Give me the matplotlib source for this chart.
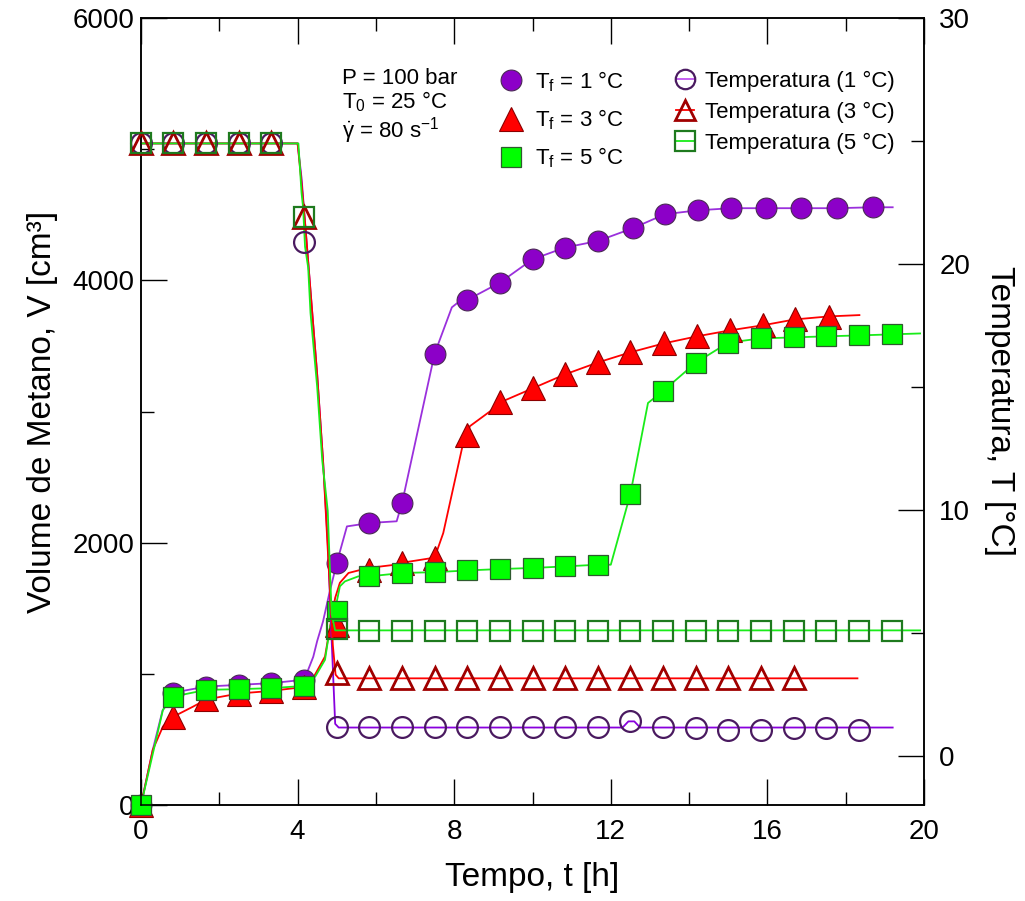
import matplotlib
matplotlib.use("Agg")
import matplotlib.pyplot as plt
from matplotlib.lines import Line2D
from matplotlib.ticker import MultipleLocator

plt.rcParams['font.family'] = ['Liberation Sans', 'DejaVu Sans']
plt.rcParams['mathtext.fontset'] = 'custom'
plt.rcParams['mathtext.rm'] = 'Liberation Sans'
plt.rcParams['mathtext.it'] = 'Liberation Sans'
plt.rcParams['mathtext.default'] = 'regular'

# ---------------- data: methane volume (markers) ----------------
t_v1 = [0, 0.83, 1.67, 2.5, 3.33, 4.17, 5.0, 5.83, 6.67, 7.5, 8.33, 9.17, 10.0,
        10.83, 11.67, 12.56, 13.38, 14.23, 15.08, 15.97, 16.87, 17.77, 18.69]
v1 = [0, 857, 903, 916, 929, 955, 1845, 2150, 2305, 3441, 3850, 3983, 4160,
      4250, 4300, 4397, 4504, 4534, 4550, 4550, 4550, 4550, 4557]

t_v3 = [0, 0.83, 1.67, 2.5, 3.33, 4.17, 5.0, 5.83, 6.67, 7.5, 8.33, 9.17, 10.0,
        10.83, 11.67, 12.5, 13.35, 14.2, 15.05, 15.88, 16.7, 17.57]
v3 = [0, 674, 805, 850, 870, 900, 1374, 1790, 1847, 1886, 2824, 3069, 3176,
      3283, 3374, 3451, 3519, 3573, 3619, 3657, 3702, 3718]

t_v5 = [0, 0.83, 1.67, 2.5, 3.33, 4.17, 5.0, 5.83, 6.67, 7.5, 8.33, 9.17, 10.0,
        10.83, 11.67, 12.5, 13.33, 14.17, 15.0, 15.83, 16.67, 17.5, 18.33, 19.17]
v5 = [0, 827, 878, 883, 891, 908, 1476, 1743, 1769, 1775, 1788, 1799, 1807,
      1819, 1832, 2371, 3155, 3372, 3525, 3557, 3565, 3573, 3580, 3588]

# ---------------- data: methane volume (continuous curves) ----------------
tl_v1 = [0, 0.3, 0.55, 0.83, 1.67, 2.5, 3.33, 4.17, 4.4, 4.5, 4.65, 4.8, 5.0,
         5.26, 5.55, 5.83, 6.53, 6.67, 7.5, 7.94, 8.1, 8.33, 9.17, 10.0, 10.83,
         11.67, 12.56, 13.38, 14.23, 15.08, 15.97, 16.87, 17.77, 18.69, 19.2]
vl_v1 = [0, 420, 720, 857, 903, 916, 929, 955, 1130, 1250, 1400, 1600, 1845,
         2124, 2137, 2150, 2163, 2305, 3441, 3794, 3832, 3850, 3983, 4160, 4250,
         4300, 4397, 4504, 4534, 4550, 4550, 4550, 4550, 4557, 4557]

tl_v3 = [0, 0.3, 0.56, 0.83, 1.33, 1.67, 2.5, 3.33, 4.17, 4.4, 4.7, 4.83, 4.96,
         5.08, 5.3, 5.8, 6.5, 6.67, 7.5, 7.72, 8.23, 8.33, 8.4, 8.92, 9.17, 10.0,
         10.83, 11.67, 12.5, 13.35, 14.2, 15.05, 15.88, 16.7, 17.57, 18.35]
vl_v3 = [0, 420, 598, 674, 750, 805, 850, 870, 900, 970, 1132, 1360, 1580,
         1694, 1769, 1807, 1832, 1847, 1886, 2073, 2761, 2824, 2888, 3002, 3069, 3176,
         3283, 3374, 3451, 3519, 3573, 3619, 3657, 3702, 3725, 3735]

tl_v5 = [0, 0.56, 0.83, 1.67, 2.5, 3.33, 4.17, 4.45, 4.7, 4.83, 4.95, 5.08, 5.21,
         5.55, 5.83, 6.67, 7.5, 8.33, 9.17, 10.0, 10.83, 11.67, 12.0, 12.5, 12.95,
         13.33, 14.17, 15.0, 15.83, 16.67, 17.5, 18.33, 19.17, 19.9]
vl_v5 = [0, 725, 827, 878, 883, 891, 908, 979, 1107, 1361, 1476, 1667, 1705,
         1743, 1743, 1769, 1775, 1788, 1799, 1807, 1819, 1832, 1832, 2371, 3065,
         3155, 3372, 3525, 3557, 3565, 3573, 3580, 3588, 3595]

# ---------------- data: temperature (markers) ----------------
t_temp = [0, 0.83, 1.67, 2.5, 3.33, 4.17, 5.0, 5.83, 6.67, 7.5, 8.33, 9.17,
          10.0, 10.83, 11.67, 12.5, 13.33, 14.17, 15.0, 15.83, 16.67, 17.5,
          18.33, 19.17]
temp1 = [24.9, 24.9, 24.9, 24.9, 24.9, 20.9, 1.18, 1.18, 1.18, 1.18, 1.18,
         1.18, 1.18, 1.18, 1.18, 1.42, 1.18, 1.14, 1.06, 1.06, 1.14, 1.14, 1.06]
temp3 = [24.9, 24.9, 24.9, 24.9, 24.9, 21.9, 3.37, 3.17, 3.17, 3.17, 3.17,
         3.17, 3.17, 3.17, 3.17, 3.17, 3.17, 3.17, 3.17, 3.17, 3.17]
temp5 = [24.9, 24.9, 24.9, 24.9, 24.9, 21.9, 5.15, 5.08, 5.08, 5.08, 5.08,
         5.08, 5.08, 5.08, 5.08, 5.08, 5.08, 5.08, 5.08, 5.08, 5.08, 5.08,
         5.08, 5.08]

# ---------------- data: temperature (continuous curves) ----------------
tl_t1 = [0, 4.0, 4.1, 4.2, 4.35, 4.5, 4.65, 4.77, 4.87, 4.96, 5.05, 12.3,
         12.45, 12.6, 12.75, 19.2]
tl_T1 = [24.9, 24.9, 23.5, 21.5, 18.5, 15.5, 12.0, 8.7, 4.7, 1.3, 1.15, 1.15,
         1.4, 1.4, 1.15, 1.15]
tl_t3 = [0, 4.0, 4.1, 4.2, 4.35, 4.5, 4.65, 4.8, 4.9, 4.97, 5.05, 18.3]
tl_T3 = [24.9, 24.9, 23.3, 21.5, 18.5, 15.5, 12.0, 7.5, 4.5, 3.3, 3.15, 3.15]
tl_t5 = [0, 4.02, 4.06, 4.1, 4.14, 4.19, 4.27, 4.33, 4.5, 4.63, 4.7, 4.77,
         4.83, 4.87, 4.96, 19.9]
tl_T5 = [24.9, 24.9, 23.9, 22.9, 22.3, 20.7, 19.85, 18.0, 15.0, 12.0, 11.0,
         9.96, 7.4, 5.76, 5.1, 5.1]

labels_filled = [r'T$_\mathrm{f}$ = 1 °C', r'T$_\mathrm{f}$ = 3 °C', r'T$_\mathrm{f}$ = 5 °C']
labels_open = ['Temperatura (1 °C)', 'Temperatura (3 °C)', 'Temperatura (5 °C)']

# ---------------- styles ----------------
PURPLE = '#8c00c8'
PURPLE_LINE = '#9a30dc'
PURPLE_EDGE = '#4a1a60'
RED = '#ff0000'
RED_EDGE = '#a00000'
GREEN = '#00ff00'
GREEN_LINE = '#19ec19'
GREEN_EDGE = '#1e7a1e'

fig = plt.figure(figsize=(10.25, 9.01), dpi=100)
ax = fig.add_axes([141/1025, 1-805/901, (924-141)/1025, (805-18)/901])
ax2 = ax.twinx()

# volume curves
ax.plot(tl_v1, vl_v1, color=PURPLE_LINE, lw=1.3, zorder=2)
ax.plot(tl_v3, vl_v3, color=RED, lw=1.3, zorder=2)
ax.plot(tl_v5, vl_v5, color=GREEN_LINE, lw=1.3, zorder=2)
ax.plot(t_v1, v1, ls='none', marker='o', ms=15, mfc=PURPLE, mec='#4a2a55',
        mew=0.8, clip_on=False, zorder=3)
ax.plot(t_v3, v3, ls='none', marker='^', ms=17, mfc=RED, mec='#8b0000',
        mew=0.8, clip_on=False, zorder=4)
ax.plot(t_v5, v5, ls='none', marker='s', ms=14, mfc=GREEN, mec='#2f5a2f',
        mew=0.9, clip_on=False, zorder=5)

# temperature curves
ax2.plot(tl_t1, tl_T1, color='#8800dd', lw=1.3, zorder=2)
ax2.plot(tl_t3, tl_T3, color=RED, lw=1.3, zorder=2)
ax2.plot(tl_t5, tl_T5, color=GREEN_LINE, lw=1.3, zorder=2)
ax2.plot(t_temp[:len(temp1)], temp1, ls='none', marker='o', ms=15, mfc='none',
         mec=PURPLE_EDGE, mew=1.6, clip_on=False, zorder=3)
ax2.plot(t_temp[:len(temp3)], temp3, ls='none', marker='^', ms=16, mfc='none',
         mec=RED_EDGE, mew=2.0, clip_on=False, zorder=4)
ax2.plot(t_temp[:len(temp5)], temp5, ls='none', marker='s', ms=14, mfc='none',
         mec=GREEN_EDGE, mew=1.6, clip_on=False, zorder=5)

# axes
ax.set_xlim(0, 20)
ax.set_ylim(0, 6000)
ax2.set_ylim(-2, 30)
ax.xaxis.set_major_locator(MultipleLocator(4))
ax.xaxis.set_minor_locator(MultipleLocator(2))
ax.yaxis.set_major_locator(MultipleLocator(2000))
ax.yaxis.set_minor_locator(MultipleLocator(1000))
ax2.yaxis.set_major_locator(MultipleLocator(10))
ax2.yaxis.set_minor_locator(MultipleLocator(5))

for a in (ax, ax2):
    for s in a.spines.values():
        s.set_linewidth(1.1)
ax.tick_params(axis='x', which='both', direction='in', top=True, bottom=True,
               labelsize=20, pad=10, width=1.0)
ax.tick_params(axis='y', which='both', direction='in', left=True, right=False,
               labelsize=20, pad=5, width=1.0)
ax.tick_params(which='major', length=19)
ax.tick_params(which='minor', length=9.5)
ax2.tick_params(axis='y', which='both', direction='in', right=True,
                labelsize=20, pad=11, width=1.0)
ax2.tick_params(which='major', length=19)
ax2.tick_params(which='minor', length=9.5)

ax.set_xlabel('Tempo, t [h]', fontsize=24, labelpad=12)
ax.set_ylabel('Volume de Metano, V [cm³]', fontsize=24, labelpad=10)
ax2.set_ylabel('Temperatura, T [°C]', fontsize=24, rotation=270, labelpad=32)

# parameter annotations
fig.text(342/1025, 1-79/901, 'P = 100 bar', fontsize=16, va='center', ha='left')
fig.text(342/1025, 1-102/901, r'T$_\mathrm{0}$ = 25 °C', fontsize=16, va='center', ha='left')
fig.text(342/1025, 1-131/901, r'$\dot{\gamma}$ = 80 s$^{-1}$', fontsize=16, va='center', ha='left')

# legends
h_filled = [
    Line2D([], [], ls='none', marker='o', ms=15, mfc=PURPLE, mec='#4a2a55', mew=0.8),
    Line2D([], [], ls='none', marker='^', ms=17, mfc=RED, mec='#8b0000', mew=0.8),
    Line2D([], [], ls='none', marker='s', ms=14, mfc=GREEN, mec='#2f5a2f', mew=0.9),
]
h_open = [
    Line2D([], [], color='#c050f0', lw=1.3, marker='o', ms=14, mfc='none', mec=PURPLE_EDGE, mew=1.6),
    Line2D([], [], color=RED, lw=1.3, marker='^', ms=15, mfc='none', mec=RED_EDGE, mew=2.0),
    Line2D([], [], color=GREEN_LINE, lw=1.3, marker='s', ms=14, mfc='none', mec=GREEN_EDGE, mew=1.6),
]
leg1 = ax2.legend(h_filled, labels_filled, loc='upper left',
                  bbox_to_anchor=(498/1025, 1-69/901), bbox_transform=fig.transFigure,
                  frameon=False, fontsize=16, handlelength=1.2, handletextpad=0.45,
                  labelspacing=0.62, borderpad=0, borderaxespad=0)
ax2.add_artist(leg1)
ax2.legend(h_open, labels_open, loc='upper left',
           bbox_to_anchor=(676/1025, 1-71/901), bbox_transform=fig.transFigure,
           frameon=False, fontsize=16, handlelength=0.8, handletextpad=0.5,
           labelspacing=0.44, borderpad=0, borderaxespad=0)

fig.savefig('out.png', dpi=100)
